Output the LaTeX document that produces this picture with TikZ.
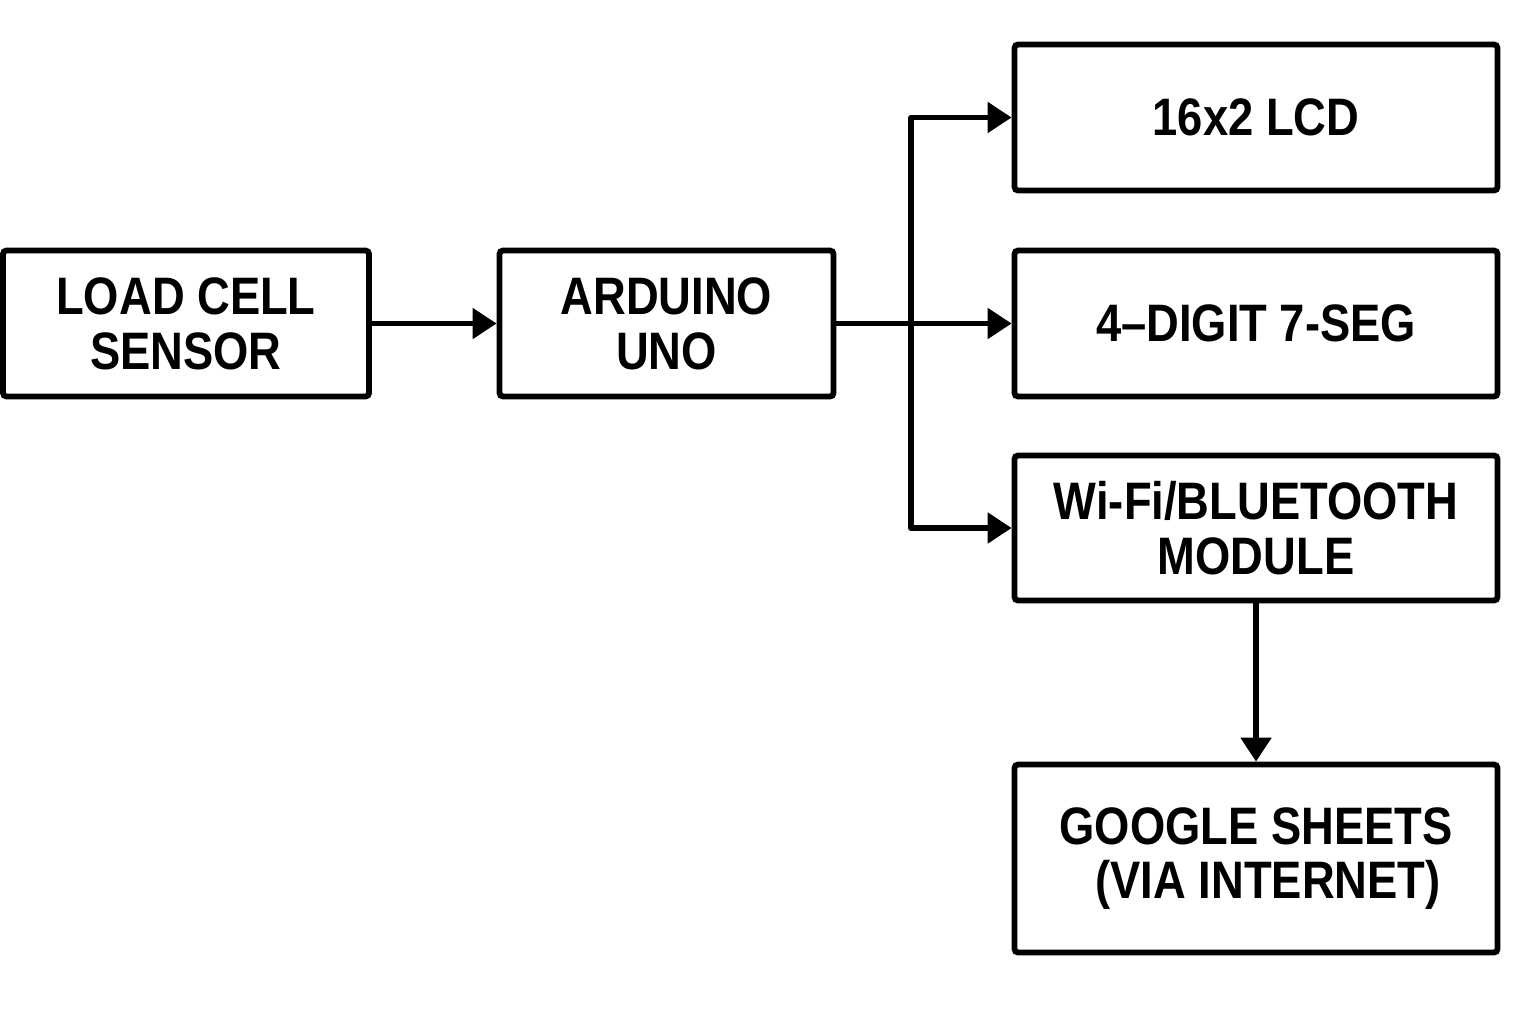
\documentclass[tikz,border=0pt]{standalone}
\usepackage{fontspec}
\setmainfont[FakeStretch=0.86]{Liberation Sans}
\usetikzlibrary{arrows.meta}

\tikzset{
  block/.style={draw,line width=1.65pt,rounded corners=1pt,align=center,inner sep=0pt,
    font=\fontsize{15}{15.6}\selectfont\bfseries},
  arr/.style={line width=1.5pt,line join=round,-{Triangle[length=0.24cm,width=0.3cm]}}
}

\begin{document}
\begin{tikzpicture}[scale=1.0]

\useasboundingbox (0,0) rectangle (15.36,10.24);

\node[block,minimum width=3.66cm,minimum height=1.46cm] (load) at (1.86,7.005) {LOAD CELL\\SENSOR};
\node[block,minimum width=3.34cm,minimum height=1.46cm] (arduino) at (6.665,7.005) {ARDUINO\\UNO};

\node[block,minimum width=4.83cm,minimum height=1.46cm] (lcd) at (12.56,9.065) {16x2 LCD};
\node[block,minimum width=4.83cm,minimum height=1.46cm] (seg) at (12.56,7.005) {4–DIGIT 7-SEG};
\node[block,minimum width=4.83cm,minimum height=1.45cm] (wifi) at (12.56,4.96) {Wi-Fi/BLUETOOTH\\MODULE};
\node[block,minimum width=4.83cm,minimum height=1.88cm] (google) at (12.56,1.655) {GOOGLE SHEETS\\\hspace*{0.24cm}(VIA INTERNET)};

\coordinate (split) at (9.11,7.005);

\draw[arr] (load) -- (arduino);
\draw[arr] (arduino) -- (seg);
\draw[arr] (split) |- (lcd);
\draw[arr] (split) |- (wifi);
\draw[arr] (wifi) -- (google);
\end{tikzpicture}
\end{document}
